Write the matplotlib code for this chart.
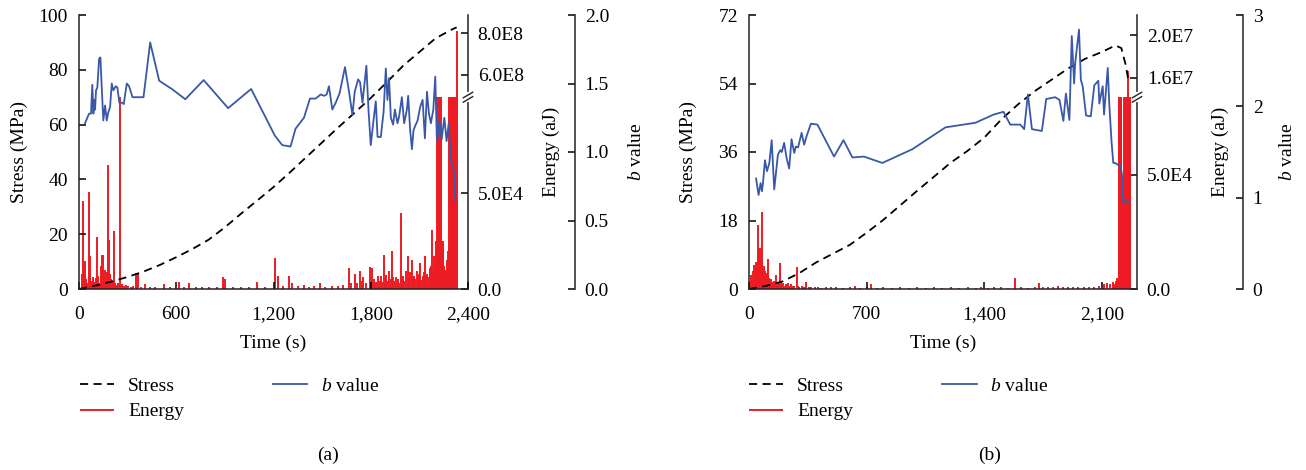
import numpy as np
import matplotlib.pyplot as plt
from matplotlib.ticker import FixedLocator, FixedFormatter, FuncFormatter

plt.rcParams['font.family'] = ['Liberation Serif', 'DejaVu Serif']
plt.rcParams['mathtext.fontset'] = 'custom'
plt.rcParams['mathtext.rm'] = 'Liberation Serif'
plt.rcParams['mathtext.it'] = 'Liberation Serif:italic'
plt.rcParams['font.size'] = 14

RED = '#ed1c24'
BLUE = '#3a58a8'

# ---------------- panel (a) ----------------
ts_a = [0, 100, 200, 300, 400, 500, 600, 700, 800, 900, 1000, 1100, 1200, 1300,
        1400, 1500, 1600, 1700, 1800, 1900, 2000, 2100, 2200, 2300, 2330]
s_a = [0, 1.2, 2.7, 4.4, 6.4, 8.8, 11.6, 14.6, 18.0, 22.5, 27.5, 32.3, 37.2, 42.5,
       48.0, 53.5, 59.0, 64.3, 69.7, 75.5, 81.5, 86.5, 91.5, 94.7, 95.5]

tb_a = [37, 62, 74, 82, 89, 95, 99, 105, 113, 124,
        132, 140, 150, 161, 171, 181, 192, 202, 212, 227,
        237, 249, 264, 276, 295, 309, 330, 398, 439, 495,
        573, 656, 769, 920, 1062, 1161, 1208, 1254, 1305, 1336,
        1388, 1425, 1460, 1491, 1512, 1528, 1542, 1563, 1584, 1608,
        1641, 1666, 1687, 1701, 1722, 1734, 1749, 1773, 1786, 1800,
        1817, 1831, 1842, 1862, 1879, 1893, 1903, 1913, 1924, 1938,
        1949, 1965, 1975, 1992, 2006, 2023, 2031, 2043, 2054, 2064,
        2074, 2089, 2105, 2120, 2134, 2147, 2159, 2171, 2186, 2198,
        2208, 2223, 2237, 2254, 2268, 2281, 2295, 2311, 2322]
b_a = [1.21, 1.28, 1.28, 1.49, 1.28, 1.38, 1.31, 1.45, 1.47, 1.68,
       1.69, 1.48, 1.23, 1.34, 1.23, 1.29, 1.33, 1.50, 1.45, 1.48,
       1.47, 1.36, 1.36, 1.35, 1.50, 1.48, 1.40, 1.40, 1.80, 1.52,
       1.46, 1.385, 1.525, 1.32, 1.46, 1.23, 1.12, 1.05, 1.04, 1.17,
       1.25, 1.39, 1.39, 1.42, 1.41, 1.42, 1.48, 1.31, 1.36, 1.43,
       1.62, 1.44, 1.27, 1.44, 1.53, 1.51, 1.36, 1.63, 1.31, 1.05,
       1.23, 1.37, 1.11, 1.11, 1.29, 1.61, 1.38, 1.54, 1.25, 1.20,
       1.31, 1.21, 1.26, 1.40, 1.21, 1.31, 1.41, 1.16, 1.02, 1.16,
       1.19, 1.23, 1.33, 1.38, 1.10, 1.44, 1.28, 1.21, 1.31, 1.55,
       1.08, 1.23, 1.09, 1.25, 1.08, 1.21, 0.94, 0.88, 0.65]

te_a = [20, 27, 32, 37, 45, 52, 62, 66, 70, 78,
        89, 95, 102, 109, 114, 119, 126, 132, 138, 144,
        150, 155, 160, 166, 172, 177, 182, 187, 193, 198,
        205, 212, 218, 224, 232, 240, 248, 256, 265, 275,
        290, 305, 320, 335, 352, 358, 364, 380, 408, 440,
        470, 523, 560, 616, 650, 680, 720, 760, 800, 850,
        887, 895, 903, 950, 1000, 1050, 1100, 1150, 1208, 1226,
        1260, 1298, 1314, 1350, 1386, 1420, 1450, 1485, 1520, 1560,
        1600, 1630, 1666, 1680, 1701, 1715, 1734, 1745, 1755, 1770,
        1794, 1800, 1808, 1820, 1830, 1845, 1855, 1862, 1870, 1879,
        1888, 1897, 1905, 1915, 1922, 1932, 1940, 1950, 1958, 1968,
        1976, 1984, 1992, 1999, 2008, 2016, 2027, 2037, 2045, 2052,
        2060, 2068, 2076, 2083, 2090, 2095, 2105, 2112, 2120, 2128,
        2136, 2143, 2150, 2158, 2166, 2172, 2178, 2185, 2192, 2198,
        2204, 2209, 2213, 2217, 2221, 2225, 2229, 2233, 2238, 2243,
        2248, 2254, 2260, 2266, 2272, 2278, 2284, 2289, 2293, 2297,
        2301, 2305, 2309, 2313, 2317, 2321, 2325, 2330]
e_a = [8000, 46000, 12000, 14400, 5000, 3000, 50700, 9000, 17000, 4000,
       6000, 3500, 5500, 27200, 5000, 7000, 3000, 2500, 12000, 17900,
       17900, 8000, 10000, 4000, 9000, 64700, 6000, 25800, 8000, 5000,
       2500, 4000, 30200, 3000, 2000, 3000, 2000, 2e8, 2500, 1500,
       2000, 1500, 1200, 1500, 8300, 2000, 8500, 1000, 2500, 800,
       1000, 2500, 800, 3500, 800, 3000, 800, 1000, 800, 1000,
       6500, 3000, 5200, 800, 1000, 800, 3500, 1000, 16100, 7000,
       1500, 7000, 3000, 1500, 2000, 1000, 1500, 3000, 1200, 1500,
       1500, 2000, 10900, 3000, 8000, 3000, 9600, 4000, 6000, 3000,
       11700, 4000, 10800, 5000, 3500, 7000, 4000, 7000, 3500, 17900,
       5000, 7500, 4000, 9500, 5000, 19600, 6500, 4000, 6000, 5000,
       3000, 39500, 5000, 7000, 4000, 9500, 17000, 6500, 9000, 14900,
       5000, 7000, 5000, 9500, 6000, 8000, 13500, 4500, 7000, 9000,
       17000, 7000, 8000, 6000, 10900, 12000, 31000, 9000, 17000, 14000,
       25000, 2e8, 2e8, 2e8, 2e8, 2e8, 2e8, 2e8, 24000, 23000,
       25000, 12000, 8000, 10000, 15000, 20000, 2e8, 2e8, 2e8, 2e8,
       2e8, 2e8, 2e8, 2e8, 2e8, 2e8, 2e8, 8.1e8]

# ---------------- panel (b) ----------------
ts_b = [0, 100, 200, 300, 400, 500, 600, 700, 800, 900, 1000, 1100, 1200, 1300, 1400,
        1500, 1600, 1700, 1800, 1900, 2000, 2100, 2180, 2215, 2240, 2256]
s_b = [0, 0.8, 2.0, 4.2, 7.0, 9.3, 11.6, 14.8, 18.2, 22.0, 25.8, 29.5, 33.2, 36.3,
       39.8, 44.5, 48.5, 52.0, 55.0, 58.0, 60.5, 62.3, 64.0, 63.3, 59.0, 55.0]

tb_b = [42, 57, 69, 77, 83, 95, 107, 121, 135, 150,
        172, 186, 195, 209, 224, 239, 253, 269, 279, 292,
        313, 328, 342, 368, 407, 506, 562, 615, 684, 793,
        971, 1169, 1347, 1455, 1514, 1554, 1614, 1637, 1659, 1683,
        1742, 1768, 1821, 1847, 1870, 1885, 1906, 1920, 1934, 1940,
        1963, 1974, 1985, 2005, 2033, 2054, 2078, 2084, 2104, 2112,
        2134, 2143, 2157, 2167, 2178, 2211, 2220, 2226, 2240, 2256]
b_b = [1.21, 1.03, 1.16, 1.07, 1.16, 1.41, 1.29, 1.38, 1.63, 1.09,
       1.47, 1.52, 1.50, 1.60, 1.43, 1.32, 1.64, 1.49, 1.56, 1.55,
       1.71, 1.58, 1.67, 1.81, 1.80, 1.45, 1.63, 1.44, 1.45, 1.38,
       1.53, 1.77, 1.82, 1.91, 1.94, 1.80, 1.80, 1.75, 2.13, 1.75,
       1.73, 2.08, 2.10, 2.07, 1.84, 2.14, 1.85, 2.77, 2.25, 2.47,
       2.84, 2.29, 2.22, 1.90, 1.89, 2.23, 2.28, 2.03, 2.22, 1.91,
       2.42, 2.03, 1.60, 1.38, 1.38, 1.34, 1.23, 0.95, 0.97, 0.95]

te_b = [5, 12, 18, 25, 31, 37, 42, 47, 51, 55,
        57, 61, 65, 69, 73, 76, 79, 83, 87, 92,
        97, 102, 107, 111, 115, 120, 125, 130, 136, 142,
        148, 155, 160, 166, 172, 178, 184, 190, 196, 202,
        210, 218, 226, 234, 242, 250, 260, 270, 283, 290,
        300, 315, 330, 340, 355, 370, 390, 410, 430, 460,
        490, 520, 560, 600, 632, 660, 700, 725, 760, 800,
        850, 900, 950, 1000, 1050, 1100, 1150, 1200, 1250, 1300,
        1350, 1380, 1420, 1460, 1500, 1540, 1584, 1620, 1660, 1700,
        1723, 1750, 1780, 1810, 1840, 1870, 1900, 1930, 1960, 1990,
        2020, 2050, 2080, 2110, 2130, 2150, 2165, 2175, 2185, 2192,
        2198, 2202, 2206, 2210, 2214, 2218, 2222, 2226, 2230, 2234,
        2238, 2242, 2246, 2250, 2256, 2260, 2264, 2268]
e_b = [3000, 6100, 4000, 8000, 10500, 7000, 11900, 9000, 28000, 12000,
       17500, 9000, 17850, 8000, 13000, 9000, 33900, 7000, 10000, 6000,
       8000, 5000, 7000, 4000, 13000, 5000, 3500, 4500, 3000, 2500,
       3500, 2500, 6000, 2000, 3000, 2500, 11500, 3000, 2000, 2500,
       1500, 2000, 1500, 2500, 1500, 2000, 1500, 1200, 9800, 1500,
       1000, 1200, 800, 3000, 800, 1000, 800, 1000, 600, 800,
       700, 800, 600, 800, 1500, 600, 800, 2000, 600, 700,
       600, 700, 600, 800, 600, 700, 600, 700, 600, 800,
       600, 1000, 600, 800, 700, 600, 4700, 800, 600, 800,
       2500, 700, 1000, 800, 1500, 700, 800, 1000, 700, 800,
       1000, 800, 1200, 2000, 2500, 2000, 3000, 2000, 3500, 5000,
       1e6, 1e6, 1e6, 1e6, 1e6, 40000, 38000, 40000, 1e6, 1e6,
       1e6, 1e6, 1e6, 1e6, 1.67e7, 1e6, 1e6, 1e6]


def break_scale(lo_max, hi_min, hi_max, frac=0.70):
    def fwd(v):
        v = np.asarray(v, dtype=float)
        low = v / lo_max * frac
        high = frac + (v - hi_min) / (hi_max - hi_min) * (1 - frac)
        return np.where(v <= lo_max, low, np.where(v >= hi_min, high, frac))

    def inv(t):
        t = np.asarray(t, dtype=float)
        return np.where(t <= frac, t / frac * lo_max,
                        hi_min + (t - frac) / (1 - frac) * (hi_max - hi_min))
    return fwd, inv


def panel(rect, ts, s, tb, b, te, e, xmax, xticks, s_ticks, scale, e_ticks, e_labels,
          b_ticks, b_fmt, coords, tag, tag_x, leg_x):
    ax = fig.add_axes(rect)
    ax_e = ax.twinx()
    ax_b = ax.twinx()
    ax_e.set_zorder(1)
    ax.set_zorder(2)
    ax_b.set_zorder(3)
    ax.patch.set_visible(False)
    ax_b.patch.set_visible(False)

    ax_e.set_yscale('function', functions=scale[:2])
    h_e = ax_e.vlines(te, 0, e, color=RED, lw=1.4)
    h_s, = ax.plot(ts, s, color='black', ls=(0, (4.5, 3)), lw=1.3)
    h_b, = ax_b.plot(tb, b, color=BLUE, lw=1.3)

    ax.set_xlim(0, xmax)
    ax.set_xticks(xticks)
    ax.xaxis.set_major_formatter(FuncFormatter(lambda v, p: f'{int(v):,}'))
    ax.set_ylim(s_ticks[0], s_ticks[-1])
    ax.set_yticks(s_ticks)
    ax_e.set_ylim(0, scale[2])
    ax_e.yaxis.set_major_locator(FixedLocator(e_ticks))
    ax_e.yaxis.set_major_formatter(FixedFormatter(e_labels))
    ax_b.set_ylim(b_ticks[0], b_ticks[-1])
    ax_b.set_yticks(b_ticks)
    ax_b.set_yticklabels([b_fmt % v for v in b_ticks])

    for a in (ax, ax_e, ax_b):
        a.spines['top'].set_visible(False)
        for sp in a.spines.values():
            sp.set_linewidth(1.1)
            sp.set_color('#222222')
    ax.spines['right'].set_visible(False)
    for a in (ax_e, ax_b):
        a.spines['left'].set_visible(False)
        a.spines['bottom'].set_visible(False)
    ax_b.spines['right'].set_position(('axes', coords[3]))

    ax.tick_params(axis='x', direction='in', length=5, width=1.1, pad=12)
    ax.tick_params(axis='y', direction='in', length=5, width=1.1, pad=8)
    for a in (ax_e, ax_b):
        a.tick_params(axis='y', direction='in', length=5, width=1.1, pad=7)

    ax.set_xlabel('Time (s)')
    ax.xaxis.set_label_coords(0.5, -0.165)
    ax.set_ylabel('Stress (MPa)')
    ax.yaxis.set_label_coords(coords[0], 0.5)
    ax_e.set_ylabel('Energy (aJ)')
    ax_e.yaxis.set_label_coords(coords[1], 0.5)
    ax_b.set_ylabel(r'$\it{b}$ value')
    ax_b.yaxis.set_label_coords(coords[2], 0.5)

    # axis break marks on the energy spine
    y0 = scale[3]
    ax_e.plot([1, 1], [y0 - 0.012, y0 + 0.012], color='white', lw=3,
              transform=ax_e.transAxes, clip_on=False, zorder=5)
    for dy in (-0.008, 0.008):
        ax_e.plot([1 - 0.012, 1 + 0.012], [y0 + dy - 0.01, y0 + dy + 0.01], color='#222222',
                  lw=1.0, transform=ax_e.transAxes, clip_on=False, zorder=6)

    fig.legend([h_s, h_e, h_b], ['Stress', 'Energy', r'$\it{b}$ value'], ncol=2,
               loc='upper left', bbox_to_anchor=(leg_x, 1 - 377 / 470), frameon=False,
               borderpad=0, borderaxespad=0, handlelength=1.75, handletextpad=0.72,
               columnspacing=4.6, labelspacing=0.42)
    fig.text(tag_x, 1 - 455 / 470, tag, ha='center', va='center')


fig = plt.figure(figsize=(13.06, 4.7), dpi=100)

fa, ia = break_scale(1e5, 4.9e8, 8.9e8)
panel([79 / 1306, 181 / 470, 389 / 1306, 274 / 470], ts_a, s_a, tb_a, b_a, te_a, e_a,
      2400, [0, 600, 1200, 1800, 2400], [0, 20, 40, 60, 80, 100],
      (fa, ia, 8.9e8, 0.70), [0, 5e4, 6e8, 8e8], ['0.0', '5.0E4', '6.0E8', '8.0E8'],
      [0, 0.5, 1.0, 1.5, 2.0], '%.1f', (-0.132, 1.193, 1.411, 1.275), '(a)', 328 / 1306,
      80 / 1306)

fb, ib = break_scale(8.4e4, 1.42e7, 2.19e7)
panel([749 / 1306, 181 / 470, 388 / 1306, 274 / 470], ts_b, s_b, tb_b, b_b, te_b, e_b,
      2308, [0, 700, 1400, 2100], [0, 18, 36, 54, 72],
      (fb, ib, 2.19e7, 0.70), [0, 5e4, 1.6e7, 2.0e7], ['0.0', '5.0E4', '1.6E7', '2.0E7'],
      [0, 1, 2, 3], '%d', (-0.134, 1.193, 1.366, 1.273), '(b)', 990 / 1306, 749 / 1306)

fig.savefig('out.png', dpi=100)
